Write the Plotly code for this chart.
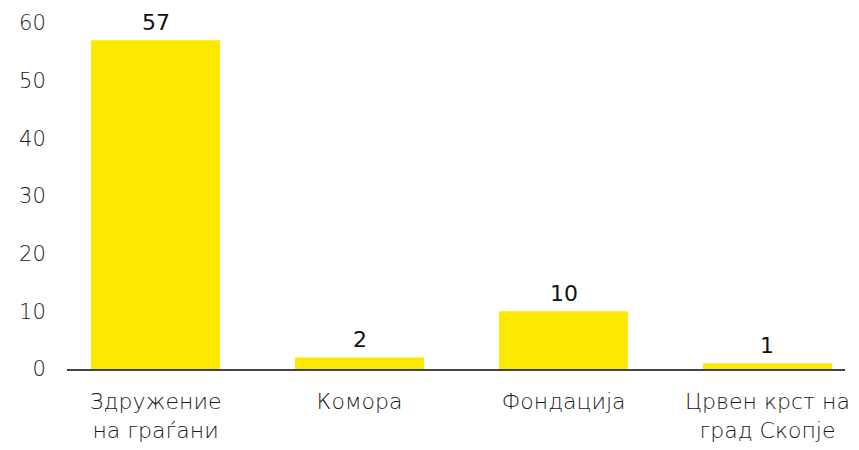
import plotly.graph_objects as go

categories = ["Здружение<br>на граѓани", "Комора", "Фондација", "Црвен крст на<br>град Скопје"]
values = [57, 2, 10, 1]
value_labels = ["57", "2", "10", "1"]
y_ticks = [0, 10, 20, 30, 40, 50, 60]

FONT = "DejaVu Sans"

fig = go.Figure()
fig.add_trace(go.Bar(
    x=categories,
    y=values,
    width=0.632,
    marker=dict(color="#FDE900", line=dict(width=0)),
    hoverinfo="x+y",
))
for cat, val, lab in zip(categories, values, value_labels):
    fig.add_annotation(
        x=cat, y=val, text=lab, showarrow=False,
        yanchor="bottom", yshift=3,
        font=dict(family=FONT, size=22, color="#111111"),
    )

fig.update_layout(
    width=859, height=450,
    margin=dict(l=59, r=22, t=15, b=89, autoexpand=False),
    paper_bgcolor="white", plot_bgcolor="white",
    showlegend=False,
    font=dict(family=FONT, color="#222222"),
)
fig.update_xaxes(
    range=[-0.434, 3.38],
    automargin=False,
    showline=True, linecolor="#444444", linewidth=1.5,
    tickfont=dict(family=FONT, size=22, color="#1a1a1a", weight=300),
    ticks="outside", ticklen=12, tickcolor="rgba(0,0,0,0)",
    showgrid=False,
)
fig.update_yaxes(
    range=[0, 60],
    automargin=False,
    tickvals=y_ticks,
    showgrid=False, zeroline=False, showline=False,
    tickfont=dict(family=FONT, size=21, color="#1a1a1a", weight=300),
    ticks="outside", ticklen=16, tickcolor="rgba(0,0,0,0)",
)

fig.write_html("out.html")
